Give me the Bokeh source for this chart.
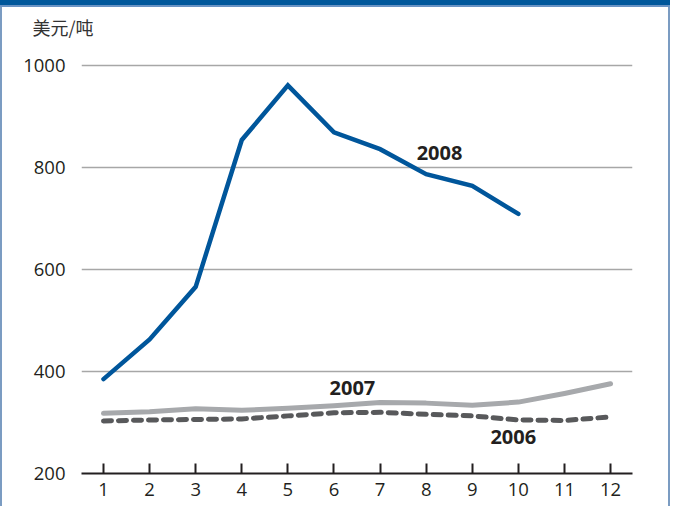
from bokeh.plotting import figure
from bokeh.models import FixedTicker, Label
from bokeh.embed import file_html
from bokeh.resources import INLINE

# ---- data ----
months = [1, 2, 3, 4, 5, 6, 7, 8, 9, 10, 11, 12]
months_2008 = [1, 2, 3, 4, 5, 6, 7, 8, 9, 10]
price_2008 = [385, 463, 566, 854, 961, 869, 836, 787, 764, 709]
price_2007 = [318, 321, 327, 324, 328, 333, 339, 338, 334, 340, 357, 376]
price_2006 = [303, 305, 306, 307, 313, 319, 320, 316, 313, 305, 304, 311]
y_ticks = [200, 400, 600, 800, 1000]
unit_label = "美元/吨"
series_labels = ["2008", "2007", "2006"]

FONT = "Open Sans"
INK = "#231f20"

PX_PER_UNIT = 0.5096
FRAME_TOP = 43      # page px
GRID_TOP = 65       # page px of the 1000 gridline
X0, X1 = 0.523, 12.476
Y0 = 200
Y1 = 1000 + (GRID_TOP - FRAME_TOP) / PX_PER_UNIT

# host element gets CSS borders: 2px left/right, 7px top
W, H = 674 - 4, 513 - 7
p = figure(width=W, height=H, output_backend="svg", toolbar_location=None,
           x_range=(X0, X1), y_range=(Y0, Y1),
           min_border_left=81 - 2, min_border_right=W - (632 - 2),
           min_border_top=FRAME_TOP - 7, min_border_bottom=H - (473 - 7),
           background_fill_color="white", border_fill_color="white",
           outline_line_color=None)
p.styles = {
    "border-top": "7px solid #00579b",
    "border-left": "2px solid #7b9cc2",
    "border-right": "2px solid #7b9cc2",
    "border-image": "linear-gradient(to bottom, #00579b 0px, #00579b 5px, "
                    "#6a93c4 5px, #6a93c4 7px, #7b9cc2 7px) 7 2 0 2 / 7px 2px 0px 2px stretch",
}

# unit label as title
p.title.text = unit_label
p.title.align = "left"
p.title.vertical_align = "top"
p.title.offset = 32 - 81
p.title.standoff = 4
p.title.text_font = "Noto Sans CJK SC"
p.title.text_font_size = "18px"
p.title.text_font_style = "normal"
p.title.text_color = "#333333"

# grid
p.xgrid.grid_line_color = None
p.ygrid.ticker = FixedTicker(ticks=y_ticks)
p.ygrid.grid_line_color = "#a7a7a7"
p.ygrid.grid_line_width = 1.5

# y axis
p.yaxis.ticker = FixedTicker(ticks=y_ticks)
p.yaxis.axis_line_color = None
p.yaxis.major_tick_line_color = None
p.yaxis.minor_tick_line_color = None
p.yaxis.major_label_standoff = 10
p.yaxis.major_label_text_font = FONT
p.yaxis.major_label_text_font_size = "18.5px"
p.yaxis.major_label_text_color = INK

# x axis
p.xaxis.ticker = FixedTicker(ticks=months)
p.xaxis.axis_line_color = INK
p.xaxis.axis_line_width = 2
p.xaxis.major_tick_line_color = INK
p.xaxis.major_tick_line_width = 2
p.xaxis.major_tick_in = 10
p.xaxis.major_tick_out = 0
p.xaxis.minor_tick_line_color = None
p.xaxis.major_label_standoff = 9
p.xaxis.major_label_text_font = FONT
p.xaxis.major_label_text_font_size = "18.5px"
p.xaxis.major_label_text_color = INK

# lines
p.line(months, price_2006, line_color="#58595b", line_width=5,
       line_dash="8 7", line_cap="round")
p.line(months, price_2007, line_color="#a7a9ac", line_width=5,
       line_join="round", line_cap="round")
p.line(months_2008, price_2008, line_color="#00569b", line_width=4.5,
       line_join="miter", line_cap="round")

# series labels
for txt, x, y in [(series_labels[0], 8.29, 828), (series_labels[1], 6.40, 368),
                  (series_labels[2], 9.89, 271)]:
    p.add_layout(Label(x=x, y=y, text=txt, text_font=FONT, text_font_style="bold",
                       text_font_size="20px", text_color=INK, text_align="center",
                       text_baseline="middle"))

open("out.html", "w").write(file_html(p, INLINE))
